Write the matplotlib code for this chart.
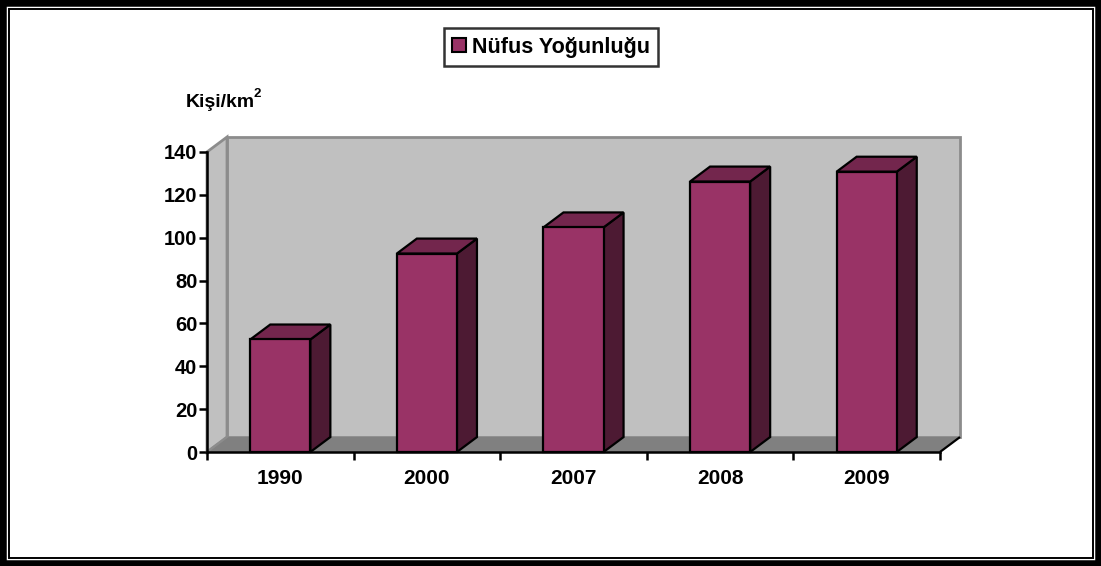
import matplotlib.pyplot as plt
from matplotlib.patches import Polygon, Rectangle, Patch
import numpy as np

plt.rcParams['font.family'] = ['Liberation Sans', 'DejaVu Sans']
plt.rcParams['font.weight'] = 'bold'

years = ['1990', '2000', '2007', '2008', '2009']
density = [52.5, 92.6, 104.8, 126.2, 130.8]
yticks = [0, 20, 40, 60, 80, 100, 120, 140]
legend_label = 'Nüfus Yoğunluğu'

front_col = '#993366'
top_col = '#73264d'
side_col = '#4d1a33'
wall_col = '#c0c0c0'
floor_col = '#808080'
edge_gray = '#8c8c8c'

W, H = 1101, 566
fig = plt.figure(figsize=(W / 100, H / 100), dpi=100)

# axes spans the front plane plus the depth offset of the walls
ymax = 140
ncat = len(years)
dx = 0.1365          # depth offset in category units
dy = 6.98            # depth offset in value units
left, right, bottom, top = 207, 960, 452, 137
ax = fig.add_axes([left / W, 1 - bottom / H, (right - left) / W, (bottom - top) / H])
ax.set_xlim(0, ncat + dx)
ax.set_ylim(0, ymax + dy)
ax.patch.set_visible(False)

# back wall, side wall and floor
ax.add_patch(Rectangle((dx, dy), ncat, ymax, facecolor=wall_col,
                       edgecolor=edge_gray, lw=2, zorder=1, clip_on=False))
ax.add_patch(Polygon([(0, 0), (dx, dy), (dx, ymax + dy), (0, ymax)],
                     closed=True, facecolor=wall_col, edgecolor=edge_gray,
                     lw=2, zorder=1, clip_on=False))
ax.add_patch(Polygon([(0, 0), (ncat, 0), (ncat + dx, dy), (dx, dy)],
                     closed=True, facecolor=floor_col, edgecolor='none',
                     zorder=2, clip_on=False))
ax.plot([0, dx], [0, dy], color=edge_gray, lw=1.5, zorder=2, clip_on=False)
ax.plot([ncat, ncat + dx], [0, dy], color='black', lw=1.6, zorder=2,
        solid_capstyle='butt', clip_on=False)

# 3D-looking columns
bw = 0.41
for i, v in enumerate(density):
    x0 = i + 0.5 - bw / 2
    x1 = x0 + bw
    kw = dict(closed=True, edgecolor='black', lw=1.6, joinstyle='miter',
              zorder=3, clip_on=False)
    ax.add_patch(Polygon([(x1, 0), (x1 + dx, dy), (x1 + dx, v + dy), (x1, v)],
                         facecolor=side_col, **kw))
    ax.add_patch(Polygon([(x0, v), (x1, v), (x1 + dx, v + dy), (x0 + dx, v + dy)],
                         facecolor=top_col, **kw))
    ax.add_patch(Polygon([(x0, 0), (x1, 0), (x1, v), (x0, v)],
                         facecolor=front_col, **kw))

# axes lines and ticks
for s in ['top', 'right']:
    ax.spines[s].set_visible(False)
ax.spines['left'].set_bounds(0, ymax)
ax.spines['bottom'].set_bounds(0, ncat)
for s in ['left', 'bottom']:
    ax.spines[s].set_linewidth(1.8)
    ax.spines[s].set_zorder(4)
ax.set_yticks(yticks)
ax.set_yticklabels([str(t) for t in yticks], fontsize=14.5, fontweight='bold')
ax.set_xticks(np.arange(ncat + 1))
ax.set_xticklabels([])
ax.set_xticks(np.arange(ncat) + 0.5, minor=True)
ax.set_xticklabels(years, minor=True, fontsize=15, fontweight='bold')
ax.tick_params(axis='y', direction='out', length=6, width=1.8, pad=1)
ax.tick_params(axis='x', which='major', direction='out', length=6, width=1.8)
ax.tick_params(axis='x', which='minor', length=0, pad=12)

# unit label
fig.text(186 / W, 1 - 107 / H, 'Kişi/km', fontsize=14, fontweight='bold',
         ha='left', va='baseline')
fig.text(253 / W, 1 - 97 / H, '2', fontsize=9.5, fontweight='bold',
         ha='left', va='baseline')

# legend
handle = Patch(facecolor=front_col, edgecolor='black', lw=1.5)
leg = fig.legend([handle], [legend_label], loc='center',
                 bbox_to_anchor=(551 / W, 1 - 47 / H), frameon=True,
                 fancybox=False, prop={'size': 15.5, 'weight': 'bold'},
                 handlelength=0.65, handleheight=0.65, handletextpad=0.25,
                 borderpad=0.4, borderaxespad=0)
leg.get_frame().set_edgecolor('black')
leg.get_frame().set_linewidth(1.8)

# double frame around the figure
fig.patches.append(Rectangle((0, 0), 1, 1, transform=fig.transFigure,
                             fill=False, edgecolor='black', lw=9))
fig.patches.append(Rectangle((8.5 / W, 8.5 / H), 1 - 17 / W, 1 - 17 / H,
                             transform=fig.transFigure, fill=False,
                             edgecolor='black', lw=1.4))

fig.savefig('out.png', dpi=100)
